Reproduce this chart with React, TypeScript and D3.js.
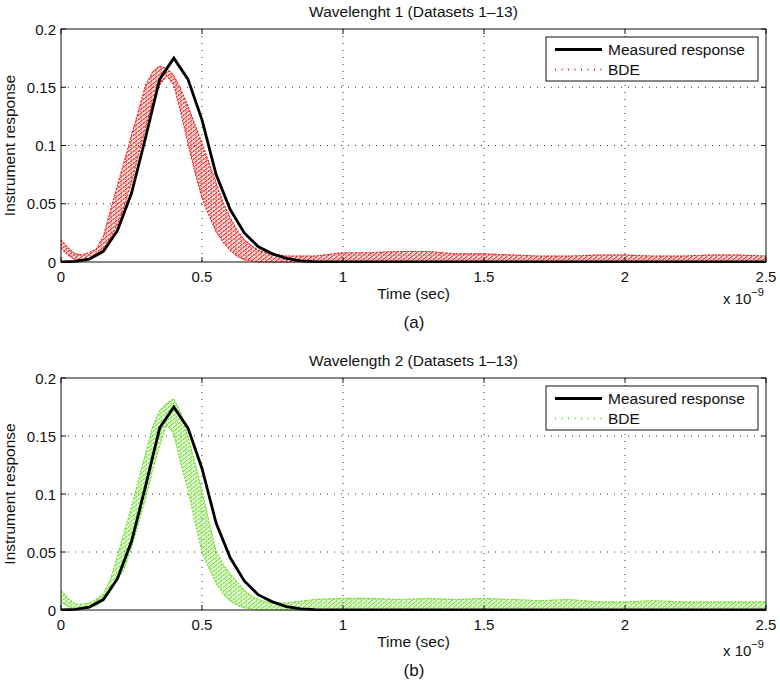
import React from "react";
import * as d3 from "d3";

// ---------- data (time in units of 1e-9 s) ----------
const xTicks = [0, 0.5, 1, 1.5, 2, 2.5];
const xTickLabels = ["0", "0.5", "1", "1.5", "2", "2.5"];
const yTicks = [0, 0.05, 0.1, 0.15, 0.2];
const yTickLabels = ["0", "0.05", "0.1", "0.15", "0.2"];

const measuredT = [0, 0.05, 0.1, 0.15, 0.2, 0.25, 0.3, 0.35, 0.4, 0.45, 0.5, 0.55, 0.6, 0.65, 0.7, 0.75, 0.8, 0.85, 0.9, 1.0, 1.5, 2.0, 2.5];
const measuredV = [0, 0.0005, 0.0025, 0.009, 0.027, 0.059, 0.107, 0.157, 0.175, 0.157, 0.122, 0.075, 0.045, 0.025, 0.013, 0.007, 0.003, 0.001, 0.0003, 0, 0, 0, 0];

const bdeT = [
  0, 0.025, 0.05, 0.075, 0.1, 0.125, 0.15, 0.175, 0.2, 0.225, 0.25, 0.275, 0.3, 0.325, 0.35, 0.375, 0.4,
  0.425, 0.45, 0.475, 0.5, 0.525, 0.55, 0.575, 0.6, 0.625, 0.65, 0.675, 0.7, 0.725, 0.75, 0.775, 0.8,
  0.9, 1.0, 1.1, 1.2, 1.3, 1.4, 1.5, 1.6, 1.7, 1.8, 1.9, 2.0, 2.1, 2.2, 2.3, 2.4, 2.5,
];

// Wavelength 1 BDE band (lower / upper envelope of the 13 datasets)
const bde1Lower = [
  0.012, 0.006, 0.002, 0.002, 0.003, 0.006, 0.011, 0.021, 0.032, 0.048, 0.068, 0.092, 0.115, 0.138, 0.152, 0.16, 0.152,
  0.128, 0.102, 0.077, 0.055, 0.04, 0.026, 0.017, 0.01, 0.005, 0.002, 0.001, 0, 0, 0, 0, 0,
  0, 0, 0, 0, 0, 0, 0, 0, 0, 0, 0, 0, 0, 0, 0, 0, 0,
];
const bde1Upper = [
  0.019, 0.012, 0.007, 0.006, 0.008, 0.011, 0.022, 0.044, 0.066, 0.087, 0.109, 0.13, 0.152, 0.163, 0.168, 0.166, 0.16,
  0.148, 0.134, 0.118, 0.102, 0.085, 0.068, 0.051, 0.038, 0.027, 0.019, 0.014, 0.01, 0.008, 0.007, 0.006, 0.005,
  0.005, 0.008, 0.008, 0.009, 0.009, 0.007, 0.007, 0.006, 0.005, 0.005, 0.006, 0.006, 0.005, 0.005, 0.006, 0.006, 0.005,
];

// Wavelength 2 BDE band
const bde2Lower = [
  0.007, 0.003, 0.001, 0.001, 0.002, 0.004, 0.008, 0.016, 0.026, 0.036, 0.054, 0.075, 0.096, 0.12, 0.142, 0.16, 0.152,
  0.126, 0.104, 0.076, 0.05, 0.036, 0.023, 0.014, 0.008, 0.004, 0.002, 0.001, 0, 0, 0, 0, 0,
  0, 0, 0, 0, 0, 0, 0, 0, 0, 0, 0, 0, 0, 0, 0, 0, 0,
];
const bde2Upper = [
  0.017, 0.01, 0.005, 0.005, 0.006, 0.009, 0.014, 0.026, 0.046, 0.068, 0.089, 0.112, 0.135, 0.158, 0.172, 0.178, 0.182,
  0.17, 0.15, 0.127, 0.103, 0.076, 0.051, 0.039, 0.031, 0.024, 0.017, 0.012, 0.009, 0.007, 0.006, 0.006, 0.006,
  0.009, 0.01, 0.01, 0.009, 0.01, 0.009, 0.01, 0.009, 0.008, 0.009, 0.007, 0.007, 0.008, 0.007, 0.007, 0.007, 0.007,
];

const FONT = "'Liberation Sans', Arial, Helvetica, sans-serif";
const LEFT = 61;
const RIGHT = 766;

type PanelProps = {
  id: string;
  top: number;
  bottom: number;
  title: string;
  caption: string;
  color: string;
  lower: number[];
  upper: number[];
  expOffset: number;
};

function Panel({ id, top, bottom, title, caption, color, lower, upper, expOffset }: PanelProps) {
  const x = d3.scaleLinear().domain([0, 2.5]).range([LEFT, RIGHT]);
  const y = d3.scaleLinear().domain([0, 0.2]).range([bottom, top]);

  const measured = measuredT.map((t, i) => [t, measuredV[i]] as [number, number]);
  const line = d3
    .line<[number, number]>()
    .x((d) => x(d[0]))
    .y((d) => y(d[1]));

  const band = bdeT.map((t, i) => ({ t, lo: lower[i], hi: upper[i] }));
  const area = d3
    .area<{ t: number; lo: number; hi: number }>()
    .x((d) => x(d.t))
    .y0((d) => y(d.lo) + 0.5)
    .y1((d) => y(d.hi) - 0.5);
  const edgeHi = d3
    .line<{ t: number; lo: number; hi: number }>()
    .x((d) => x(d.t))
    .y((d) => y(d.hi));
  const edgeLo = d3
    .line<{ t: number; lo: number; hi: number }>()
    .x((d) => x(d.t))
    .y((d) => y(d.lo));

  const gridColor = "#333";
  const cx = (LEFT + RIGHT) / 2;
  const legX = 546;
  const legY = top + 8;

  return (
    <g>
      <defs>
        <pattern id={`pat-${id}`} width={5} height={4} patternUnits="userSpaceOnUse">
          <path d="M0.3,1.8 L2.4,0.3" stroke={color} strokeWidth={1.1} fill="none" />
          <path d="M2.8,3.8 L4.8,2.2" stroke={color} strokeWidth={1.1} fill="none" />
          <path d="M0.6,3.9 L1.3,2.6" stroke={color} strokeWidth={0.8} fill="none" />
        </pattern>
        <clipPath id={`clip-${id}`}>
          <rect x={LEFT} y={top} width={RIGHT - LEFT} height={bottom - top + 1} />
        </clipPath>
      </defs>

      {/* title */}
      <text x={cx} y={top - 12} textAnchor="middle" fontFamily={FONT} fontSize={15.5} fill="#111">
        {title}
      </text>

      {/* grid */}
      {xTicks.slice(1, -1).map((t) => (
        <line key={`gx${t}`} x1={x(t)} x2={x(t)} y1={top} y2={bottom} stroke={gridColor} strokeWidth={1} strokeDasharray="1,6" />
      ))}
      {yTicks.slice(1, -1).map((v) => (
        <line key={`gy${v}`} x1={LEFT} x2={RIGHT} y1={y(v)} y2={y(v)} stroke={gridColor} strokeWidth={1} strokeDasharray="1,6" />
      ))}

      {/* data */}
      <g clipPath={`url(#clip-${id})`}>
        <path d={area(band) || ""} fill={color} fillOpacity={0.12} stroke="none" />
        <path d={area(band) || ""} fill={`url(#pat-${id})`} stroke="none" />
        <path d={edgeHi(band) || ""} fill="none" stroke={color} strokeWidth={1.1} strokeDasharray="2,1.5" />
        <path d={edgeLo(band) || ""} fill="none" stroke={color} strokeWidth={1.1} strokeDasharray="2,1.5" />
        <path d={line(measured) || ""} fill="none" stroke="#000" strokeWidth={2.8} strokeLinejoin="miter" />
      </g>

      {/* axes box */}
      <rect x={LEFT} y={top} width={RIGHT - LEFT} height={bottom - top} fill="none" stroke="#111" strokeWidth={1} />

      {/* ticks */}
      {xTicks.map((t) => (
        <g key={`tx${t}`}>
          <line x1={x(t)} x2={x(t)} y1={bottom} y2={bottom - 5} stroke="#111" />
          <line x1={x(t)} x2={x(t)} y1={top} y2={top + 5} stroke="#111" />
        </g>
      ))}
      {yTicks.map((v) => (
        <g key={`ty${v}`}>
          <line x1={LEFT} x2={LEFT + 5} y1={y(v)} y2={y(v)} stroke="#111" />
          <line x1={RIGHT} x2={RIGHT - 5} y1={y(v)} y2={y(v)} stroke="#111" />
        </g>
      ))}

      {/* tick labels */}
      {xTicks.map((t, i) => (
        <text key={`lx${t}`} x={x(t)} y={bottom + 20} textAnchor="middle" fontFamily={FONT} fontSize={15} fill="#111">
          {xTickLabels[i]}
        </text>
      ))}
      {yTicks.map((v, i) => (
        <text key={`ly${v}`} x={LEFT - 5} y={y(v) + 5.5} textAnchor="end" fontFamily={FONT} fontSize={15} fill="#111">
          {yTickLabels[i]}
        </text>
      ))}

      {/* axis labels */}
      <text x={cx} y={bottom + 37} textAnchor="middle" fontFamily={FONT} fontSize={15.5} fill="#111">
        Time (sec)
      </text>
      <text
        transform={`translate(15,${(top + bottom) / 2}) rotate(-90)`}
        textAnchor="middle"
        fontFamily={FONT}
        fontSize={15.5}
        fill="#111"
      >
        Instrument response
      </text>
      <text x={723} y={bottom + expOffset} fontFamily={FONT} fontSize={15} fill="#111">
        x 10
        <tspan dy={-8} fontSize={11}>
          −9
        </tspan>
      </text>
      <text x={414} y={bottom + 66} textAnchor="middle" fontFamily={FONT} fontSize={17} fill="#111">
        {caption}
      </text>

      {/* legend */}
      <rect x={legX} y={legY} width={212} height={44} fill="#fff" stroke="#111" strokeWidth={1} />
      <line x1={555} x2={602} y1={legY + 12.5} y2={legY + 12.5} stroke="#000" strokeWidth={2.8} />
      <line x1={555} x2={602} y1={legY + 32.5} y2={legY + 32.5} stroke={color} strokeWidth={2.2} strokeDasharray="1,5.5" />
      <text x={608} y={legY + 18} fontFamily={FONT} fontSize={15.5} fill="#111">
        Measured response
      </text>
      <text x={608} y={legY + 38} fontFamily={FONT} fontSize={15.5} fill="#111">
        BDE
      </text>
    </g>
  );
}

export default function App() {
  return (
    <svg
      width={780}
      height={683}
      viewBox="0 0 780 683"
      style={{ position: "absolute", left: 0, top: 0, background: "#fff" }}
    >
      <rect x={0} y={0} width={780} height={683} fill="#fff" />
      <Panel
        id="a"
        top={29}
        bottom={262}
        title="Wavelenght 1 (Datasets 1–13)"
        caption="(a)"
        color="#e3201c"
        lower={bde1Lower}
        upper={bde1Upper}
        expOffset={42}
      />
      <Panel
        id="b"
        top={378}
        bottom={610}
        title="Wavelength 2 (Datasets 1–13)"
        caption="(b)"
        color="#6fdc2a"
        lower={bde2Lower}
        upper={bde2Upper}
        expOffset={46}
      />
    </svg>
  );
}
